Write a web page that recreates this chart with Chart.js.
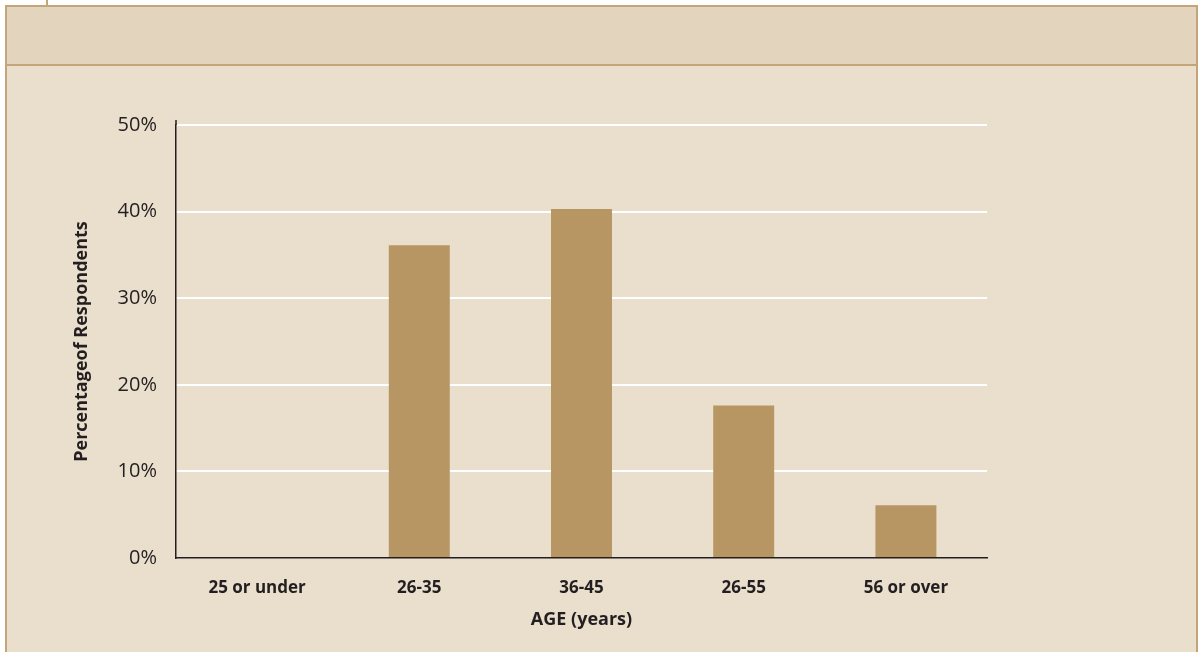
<!DOCTYPE html>
<html>
<head>
<meta charset="utf-8">
<script src="https://cdn.jsdelivr.net/npm/chart.js@4.4.0/dist/chart.umd.min.js"></script>
<style>
  html, body { margin: 0; padding: 0; background: #ffffff; }
  body { width: 1199px; height: 652px; position: relative; overflow: hidden; }
  .tab { position: absolute; left: 46px; top: 0; width: 2px; height: 6px; background: #c4a57a; }
  .panel {
    position: absolute; left: 5px; top: 5px; width: 1189px; height: 650px;
    border: 2px solid #c4a57a; border-bottom: none; background: #eadfcd;
  }
  .header {
    position: absolute; left: 0; top: 0; right: 0; height: 57px;
    background: #e3d4be; border-bottom: 2px solid #c4a57a;
  }
  #chart { position: absolute; left: 0; top: 0; }
</style>
</head>
<body>
<div class="tab"></div>
<div class="panel"><div class="header"></div></div>
<canvas id="chart" width="1199" height="652"></canvas>
<script>
const ageGroups = ['25 or under', '26-35', '36-45', '26-55', '56 or over'];
const respondentShares = [0, 36.1, 40.3, 17.6, 6.1];
const yTicks = [0, 10, 20, 30, 40, 50];

const ink = '#231f20';
const font = "'Open Sans', 'Noto Sans', sans-serif";

// the value axis line runs a few pixels past the top gridline
const axisOvershoot = {
    id: 'axisOvershoot',
    afterDraw(chart) {
        const { ctx, chartArea, scales } = chart;
        const x = scales.y.right;
        ctx.save();
        ctx.strokeStyle = ink;
        ctx.lineWidth = 1.5;
        ctx.beginPath();
        ctx.moveTo(x, chartArea.top - 5);
        ctx.lineTo(x, chartArea.top);
        ctx.stroke();
        ctx.restore();
    }
};

const ctx = document.getElementById('chart').getContext('2d');
new Chart(ctx, {
    type: 'bar',
    data: {
        labels: ageGroups,
        datasets: [{
            label: 'Respondents',
            data: respondentShares,
            backgroundColor: '#b89664',
            borderWidth: 0,
            barPercentage: 0.376,
            categoryPercentage: 1
        }]
    },
    options: {
        responsive: false,
        animation: false,
        layout: { padding: { left: 0, top: 125, right: 212, bottom: 0 } },
        plugins: {
            legend: { display: false },
            tooltip: { enabled: false }
        },
        scales: {
            x: {
                afterFit: scale => { scale.height = 94; },
                grid: { display: false, drawTicks: false },
                border: { display: true, color: ink, width: 1.5 },
                ticks: {
                    color: ink,
                    padding: 20,
                    maxRotation: 0,
                    font: { family: font, size: 17, weight: 'bold' }
                },
                title: {
                    display: true,
                    text: 'AGE (years)',
                    color: ink,
                    padding: { top: 0, bottom: 21 },
                    font: { family: font, size: 18, weight: 'bold' }
                }
            },
            y: {
                min: 0,
                max: 50,
                afterFit: scale => { scale.width = 176; },
                afterBuildTicks: scale => { scale.ticks = yTicks.map(v => ({ value: v })); },
                grid: {
                    color: ctx => ctx.tick.value === 0 ? 'rgba(0,0,0,0)' : '#ffffff',
                    lineWidth: 2,
                    drawTicks: false
                },
                border: { display: true, color: ink, width: 1.5 },
                ticks: {
                    color: ink,
                    padding: 19,
                    font: { family: font, size: 20 },
                    callback: v => v + '%'
                },
                title: {
                    display: true,
                    text: 'Percentageof Respondents',
                    color: ink,
                    padding: { top: 71, bottom: 0 },
                    font: { family: font, size: 18, weight: 'bold' }
                }
            }
        }
    },
    plugins: [axisOvershoot]
});
</script>
</body>
</html>
